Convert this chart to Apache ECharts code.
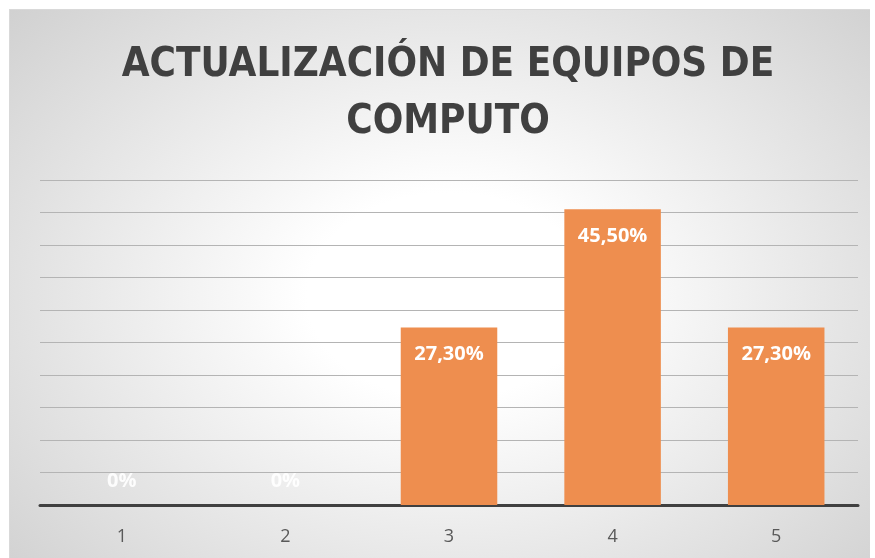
<!DOCTYPE html>
<html>
<head>
<meta charset="utf-8">
<script src="https://cdn.jsdelivr.net/npm/echarts@6/dist/echarts.min.js"></script>
<style>
  html, body { margin: 0; padding: 0; background: #fff; }
  .frame {
    position: absolute; left: 9px; top: 9px; width: 860px; height: 549px;
    background: radial-gradient(ellipse 75% 85% at 51% 52%, #ffffff 0%, #ffffff 22%, #cbcbcb 100%);
    border-top: 1px solid #d9d9d9; border-left: 1px solid #d9d9d9;
  }
  #main { position: absolute; left: 0; top: 0; width: 875px; height: 558px; }
</style>
</head>
<body>
<div class="frame"></div>
<div id="main"></div>
<script>
const titleText = 'ACTUALIZACIÓN DE EQUIPOS DE\nCOMPUTO';
const categories = ['1', '2', '3', '4', '5'];
const percentValues = [0, 0, 27.3, 45.5, 27.3];

const chart = echarts.init(document.getElementById('main'));

function fmt(v) {
  if (v === 0) return '0%';
  return v.toFixed(2).replace('.', ',') + '%';
}

// zero bars get their label above the axis, like the original
const barData = percentValues.map(function (v) {
  if (v === 0) {
    return { value: v, label: { position: 'top', distance: 14, color: 'rgba(255,255,255,0.9)' } };
  }
  return v;
});

const option = {
  backgroundColor: 'transparent',
  animation: false,
  // title is a graphic text so it can sit a bit right of the page centre
  graphic: [{
    type: 'text',
    x: 448,
    y: 37,
    style: {
      text: titleText,
      align: 'center',
      verticalAlign: 'top',
      fontFamily: 'DejaVu Sans Condensed, sans-serif',
      fontWeight: 'bold',
      fontSize: 40,
      lineHeight: 57,
      fill: '#404040'
    }
  }],
  grid: { left: 40, right: 17, top: 180, bottom: 53 },
  xAxis: {
    type: 'category',
    data: categories,
    axisLine: { lineStyle: { color: '#404040', width: 3 } },
    axisTick: { show: false },
    axisLabel: { color: '#595959', fontSize: 18, margin: 23, fontFamily: 'Open Sans, sans-serif' }
  },
  yAxis: {
    type: 'value',
    min: 0,
    max: 50,
    interval: 5,
    axisLabel: { show: false },
    axisLine: { show: false },
    axisTick: { show: false },
    splitLine: { lineStyle: { color: '#b4b4b4', width: 1 } }
  },
  series: [{
    type: 'bar',
    data: barData,
    barWidth: '59%',
    itemStyle: { color: '#ee8e4f' },
    label: {
      show: true,
      position: 'insideTop',
      distance: 17,
      color: '#ffffff',
      fontWeight: 'bold',
      fontSize: 20,
      fontFamily: 'Open Sans, sans-serif',
      formatter: function (p) { return fmt(p.value); }
    }
  }]
};

chart.setOption(option);
</script>
</body>
</html>
